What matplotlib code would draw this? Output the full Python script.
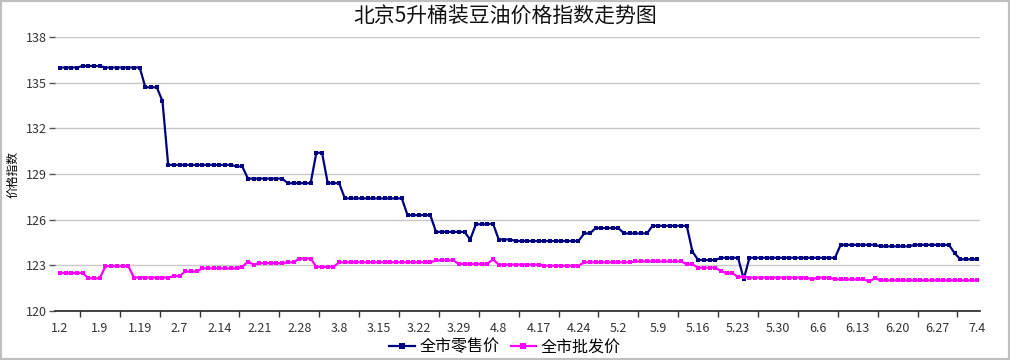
import matplotlib
matplotlib.use("Agg")
import matplotlib.pyplot as plt
from matplotlib.patches import Rectangle

plt.rcParams['font.family'] = ['Noto Sans CJK SC', 'DejaVu Sans']

title = "北京5升桶装豆油价格指数走势图"
ylabel = "价格指数"
series_names = ["全市零售价", "全市批发价"]

tick_labels = ["1.2", "1.9", "1.19", "2.7", "2.14", "2.21", "2.28", "3.8", "3.15",
               "3.22", "3.29", "4.8", "4.17", "4.24", "5.2", "5.9", "5.16", "5.23",
               "5.30", "6.6", "6.13", "6.20", "6.27", "7.4"]

retail = ([136.0] * 4 + [136.1] * 4 + [136.0] * 7 + [134.7] * 3 + [133.8] +
          [129.6] * 12 + [129.5] * 2 + [128.7] * 7 + [128.4] * 5 + [130.4] * 2 +
          [128.4] * 3 + [127.4] * 11 + [126.3] * 5 + [125.2] * 6 + [124.7] +
          [125.7] * 3 + [125.75] + [124.7] * 3 + [124.6] * 12 + [125.1] * 2 +
          [125.45] * 5 + [125.1] * 5 + [125.6] * 7 + [123.9] + [123.35] * 4 +
          [123.5] * 4 + [122.1] + [123.5] * 16 + [124.35] * 7 + [124.25] * 6 +
          [124.35] * 7 + [123.8] + [123.4] * 4)

wholesale = ([122.5] * 5 + [122.15] * 3 + [122.95] * 5 + [122.2] * 7 + [122.3] * 2 +
             [122.6] * 3 + [122.8] * 7 + [122.9] + [123.25] + [123.05] +
             [123.15] * 5 + [123.2] * 2 + [123.45] * 3 + [122.9] * 4 + [123.2] * 17 +
             [123.33] * 4 + [123.1] * 6 + [123.4] + [123.05] * 8 + [122.98] * 7 +
             [123.2] * 9 + [123.26] * 9 + [123.07] * 2 + [122.85] * 4 + [122.63] +
             [122.48] * 2 + [122.25] * 2 + [122.2] * 11 + [122.08] + [122.2] * 3 +
             [122.08] * 6 + [121.95] + [122.15] + [122.02] * 18)

label_step = 7
yticks = [120, 123, 126, 129, 132, 135, 138]

fig = plt.figure(figsize=(10.1, 3.6), dpi=100)
ax = fig.add_axes([0.0545, 0.136, 0.9155, 0.761])

x = list(range(len(retail)))
l1, = ax.plot(x, retail, color='#000080', lw=1.6, marker='s', ms=2.8,
              markeredgewidth=0, label=series_names[0])
l2, = ax.plot(x, wholesale, color='#FF00FF', lw=1.6, marker='s', ms=2.8,
              markeredgewidth=0, label=series_names[1])

ax.set_ylim(120, 138)
ax.set_yticks(yticks)
ax.set_xlim(-0.85, len(retail) - 0.6)
ax.set_xticks([i * label_step for i in range(len(tick_labels))])
ax.set_xticklabels(tick_labels)
ax.set_xticks([i * label_step + 3.5 for i in range(len(tick_labels) - 1)], minor=True)
ax.tick_params(axis='x', which='major', length=0, pad=8, labelsize=9, colors='#333333')
ax.tick_params(axis='x', which='minor', length=4, width=1, color='#333333')
ax.tick_params(axis='y', length=4, width=1, color='#555555', labelsize=9,
               labelcolor='#333333', pad=2)

ax.grid(axis='y', color='#c8c8c8', lw=1)
ax.set_axisbelow(True)
for s in ['top', 'right', 'left']:
    ax.spines[s].set_visible(False)
ax.spines['bottom'].set_color('#222222')
ax.spines['bottom'].set_linewidth(1.2)

ax.set_ylabel(ylabel, fontsize=8.5)
ax.yaxis.set_label_coords(-0.039, 0.5)

fig.text(0.5, 0.953, title, ha='center', va='center', fontsize=15, color='#111111')

fig.legend(handles=[l1, l2], loc='center', bbox_to_anchor=(0.5, 0.036), ncol=2,
           frameon=False, fontsize=11.5, handlelength=1.6, handletextpad=0.3,
           columnspacing=0.7, markerscale=1.6)

fig.patches.append(Rectangle((0, 0), 1, 1, transform=fig.transFigure, fill=False,
                             edgecolor='#bfbfbf', lw=3))

fig.savefig("out.png", dpi=100)
